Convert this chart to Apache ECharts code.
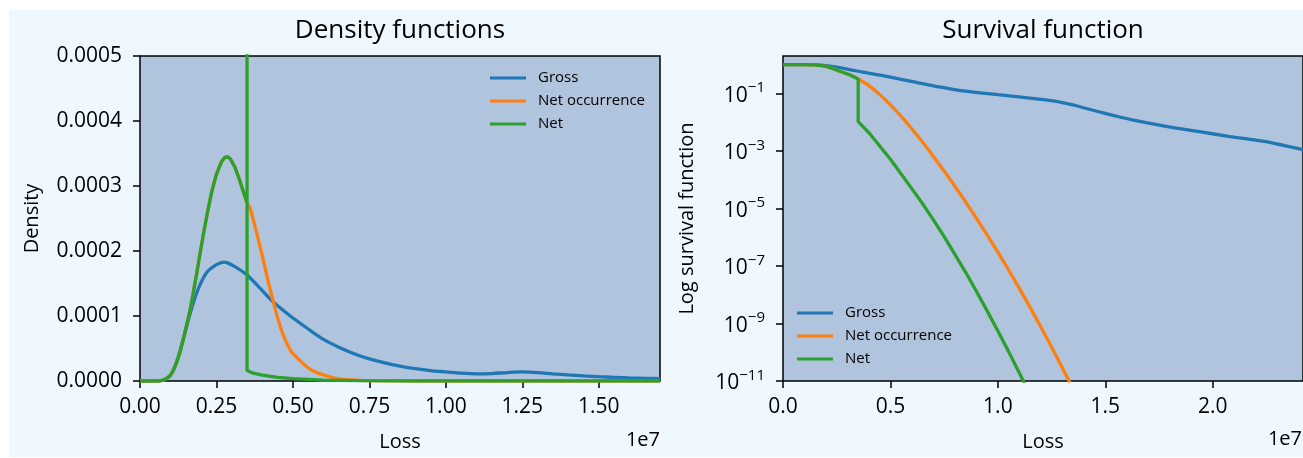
<!DOCTYPE html>
<html><head><meta charset="utf-8">
<script src="https://cdn.jsdelivr.net/npm/echarts@6/dist/echarts.min.js"></script>
<style>
html,body{margin:0;padding:0;background:#fff;}
#bg{position:absolute;left:9px;top:10px;width:1294px;height:447px;background:#f0f8ff;}
#chart{position:absolute;left:0;top:0;width:1303px;height:458px;}
</style></head><body><div id="bg"></div><div id="chart"></div>
<script>
// ---------- names, colours, ticks ----------
const seriesNames = ['Gross', 'Net occurrence', 'Net'];
const seriesColors = ['#1f77b4', '#ff7f0e', '#2ca02c'];
const densityXTicks = [0, 2.5e6, 5e6, 7.5e6, 1e7, 1.25e7, 1.5e7];
const survivalXTicks = [0, 5e6, 1e7, 1.5e7, 2e7];
const survivalYTicks = [1e-11, 1e-9, 1e-7, 1e-5, 1e-3, 1e-1];

// ---------- density: Gross ----------
const grossDensityLoss = [0, 6e5, 8e5, 1e6, 1.2e6, 1.31e6, 1.42e6, 1.53e6, 1.75e6, 1.97e6, 2.18e6, 2.4e6, 2.6e6, 2.75e6, 2.9e6, 3.06e6, 3.3e6, 3.5e6, 3.9e6, 4.3e6, 4.7e6, 5e6, 5.5e6, 6e6, 6.5e6, 7e6, 7.5e6, 8e6, 8.5e6, 9e6, 9.5e6, 1e7, 1.05e7, 1.1e7, 1.15e7, 1.2e7, 1.25e7, 1.3e7, 1.35e7, 1.4e7, 1.45e7, 1.5e7, 1.55e7, 1.6e7, 1.65e7, 1.7e7];
const grossDensity = [0, 0, 2e-6, 9e-6, 3.0e-5, 4.7e-5, 6.5e-5, 8.5e-5, 1.21e-4, 1.49e-4, 1.67e-4, 1.76e-4, 1.81e-4, 1.83e-4, 1.81e-4, 1.77e-4, 1.70e-4, 1.63e-4, 1.44e-4, 1.24e-4, 1.08e-4, 9.7e-5, 8.0e-5, 6.4e-5, 5.2e-5, 4.2e-5, 3.4e-5, 2.8e-5, 2.3e-5, 1.9e-5, 1.6e-5, 1.4e-5, 1.2e-5, 1.1e-5, 1.15e-5, 1.3e-5, 1.4e-5, 1.3e-5, 1.1e-5, 9.3e-6, 7.8e-6, 6.6e-6, 5.7e-6, 4.8e-6, 4.1e-6, 3.6e-6];

// ---------- density: Net occurrence ----------
const netOccDensityLoss = [0, 6e5, 8e5, 9.8e5, 1.1e6, 1.2e6, 1.3e6, 1.42e6, 1.53e6, 1.64e6, 1.75e6, 1.86e6, 1.97e6, 2.07e6, 2.2e6, 2.35e6, 2.5e6, 2.65e6, 2.75e6, 2.85e6, 2.95e6, 3.1e6, 3.25e6, 3.4e6, 3.5e6, 3.6e6, 3.93e6, 4.26e6, 4.59e6, 4.91e6, 5.24e6, 5.57e6, 5.9e6, 6.33e6, 6.8e6, 7.2e6, 8e6, 9e6, 1.7e7];
const netOccDensity = [0, 0, 2e-6, 8e-6, 1.7e-5, 2.9e-5, 4.3e-5, 6.5e-5, 8.7e-5, 1.1e-4, 1.38e-4, 1.67e-4, 1.98e-4, 2.25e-4, 2.58e-4, 2.92e-4, 3.18e-4, 3.36e-4, 3.43e-4, 3.45e-4, 3.42e-4, 3.29e-4, 3.1e-4, 2.88e-4, 2.74e-4, 2.66e-4, 2.06e-4, 1.40e-4, 8.3e-5, 4.8e-5, 3.1e-5, 1.8e-5, 1.1e-5, 5e-6, 2e-6, 1e-6, 3e-7, 0, 0];

// ---------- density: Net ----------
const netDensityLoss = [0, 6e5, 8e5, 9.8e5, 1.1e6, 1.2e6, 1.3e6, 1.42e6, 1.53e6, 1.64e6, 1.75e6, 1.86e6, 1.97e6, 2.07e6, 2.2e6, 2.35e6, 2.5e6, 2.65e6, 2.75e6, 2.85e6, 2.95e6, 3.1e6, 3.25e6, 3.4e6, 3.5e6, 3.5e6, 3.5e6, 3.7e6, 4e6, 4.5e6, 5e6, 6e6, 7e6, 8e6, 9e6, 1.7e7];
const netDensity = [0, 0, 2e-6, 8e-6, 1.7e-5, 2.9e-5, 4.3e-5, 6.5e-5, 8.7e-5, 1.1e-4, 1.38e-4, 1.67e-4, 1.98e-4, 2.25e-4, 2.58e-4, 2.92e-4, 3.18e-4, 3.36e-4, 3.43e-4, 3.45e-4, 3.42e-4, 3.29e-4, 3.1e-4, 2.88e-4, 2.74e-4, 6e-3, 1.6e-5, 1.2e-5, 9e-6, 5.5e-6, 3.5e-6, 1.5e-6, 6e-7, 2e-7, 0, 0];

// ---------- survival: Gross ----------
const grossSurvLoss = [0, 1e6, 1.5e6, 2e6, 2.5e6, 3.1e6, 3.6e6, 4.1e6, 4.66e6, 5.5e6, 6.21e6, 7e6, 7.77e6, 8.5e6, 9.32e6, 1e7, 1.087e7, 1.17e7, 1.258e7, 1.306e7, 1.36e7, 1.46e7, 1.54e7, 1.62e7, 1.77e7, 1.93e7, 2.08e7, 2.24e7, 2.42e7];
const grossSurv = [1, 0.998, 0.984, 0.923, 0.813, 0.676, 0.569, 0.484, 0.417, 0.309, 0.24, 0.182, 0.145, 0.12, 0.102, 0.0902, 0.0776, 0.0661, 0.055, 0.0468, 0.038, 0.024, 0.017, 0.0123, 7.5e-3, 4.79e-3, 3.16e-3, 2.14e-3, 1.1e-3];

// ---------- survival: Net occurrence ----------
const netOccSurvLoss = [0, 1e6, 1.55e6, 2e6, 2.3e6, 2.64e6, 3.1e6, 3.5e6, 4e6, 4.52e6, 5e6, 5.5e6, 6e6, 6.5e6, 7e6, 7.5e6, 8e6, 8.5e6, 9e6, 9.5e6, 1e7, 1.05e7, 1.1e7, 1.15e7, 1.2e7, 1.25e7, 1.3e7, 1.335e7];
const netOccSurv = [1, 0.995, 0.977, 0.871, 0.74, 0.589, 0.447, 0.316, 0.186, 0.0891, 0.0398, 0.0158, 5.82e-3, 2.0e-3, 6.46e-4, 2.0e-4, 5.89e-5, 1.68e-5, 4.57e-6, 1.2e-6, 3.02e-7, 7.24e-8, 1.66e-8, 3.63e-9, 7.59e-10, 1.51e-10, 2.88e-11, 8.9e-12];

// ---------- survival: Net ----------
const netSurvLoss = [0, 1e6, 1.55e6, 2e6, 2.3e6, 2.64e6, 3.1e6, 3.5e6, 3.5e6, 4e6, 4.5e6, 5e6, 5.5e6, 6e6, 6.5e6, 7e6, 7.5e6, 8e6, 8.5e6, 9e6, 9.5e6, 1e7, 1.05e7, 1.1e7, 1.125e7];
const netSurv = [1, 0.995, 0.977, 0.871, 0.74, 0.589, 0.447, 0.316, 1.05e-2, 4.27e-3, 1.48e-3, 5.13e-4, 1.58e-4, 4.79e-5, 1.45e-5, 3.98e-6, 1.05e-6, 2.51e-7, 6.03e-8, 1.32e-8, 2.75e-9, 5.5e-10, 1.05e-10, 1.9e-11, 7.9e-12];

// ---------- build ----------
const FONT = '"Open Sans", sans-serif';
const pairs = (xs, ys) => xs.map((x, i) => [x, ys[i]]);
const densityData = [pairs(grossDensityLoss, grossDensity), pairs(netOccDensityLoss, netOccDensity), pairs(netDensityLoss, netDensity)];
const survivalData = [pairs(grossSurvLoss, grossSurv), pairs(netOccSurvLoss, netOccSurv), pairs(netSurvLoss, netSurv)];
const smoothing = [0.3, 0.3, false];

const tickStyle = { show: true, length: 7, inside: false, lineStyle: { color: '#000', width: 1.5 } };
const labelBase = { color: '#000', fontSize: 21, fontFamily: FONT };
const nameBase = { color: '#000', fontSize: 20, fontFamily: FONT };
const sup = e => '{b|10}{s|' + (e < 0 ? '\u2212' : '') + Math.abs(e) + '}';

const chart = echarts.init(document.getElementById('chart'), null, { renderer: 'canvas' });
const series = [];
[densityData, survivalData].forEach((set, g) => {
  seriesNames.forEach((n, i) => {
    series.push({ name: n, type: 'line', xAxisIndex: g, yAxisIndex: g, data: set[i], showSymbol: false, symbol: 'none', clip: true,
      smooth: smoothing[i],
      lineStyle: { color: seriesColors[i], width: 3.3 }, itemStyle: { color: seriesColors[i] }, emphasis: { disabled: true }, z: 2 + i });
  });
});

const legendBase = {
  data: seriesNames, orient: 'vertical', icon: 'rect', itemWidth: 36, itemHeight: 3, itemGap: 5,
  selectedMode: false,
  textStyle: { fontSize: 15, lineHeight: 18, color: '#000', fontFamily: FONT, padding: [0, 0, 0, 7] }
};

chart.setOption({
  animation: false,
  backgroundColor: 'transparent',
  textStyle: { fontFamily: FONT },
  grid: [
    { left: 140, top: 56, width: 520, height: 325, show: true, backgroundColor: '#b0c4de', borderColor: '#000', borderWidth: 1.5 },
    { left: 783, top: 56, width: 520, height: 325, show: true, backgroundColor: '#b0c4de', borderColor: '#000', borderWidth: 1.5 }
  ],
  xAxis: [
    { type: 'value', gridIndex: 0, min: 0, max: 1.7e7, name: 'Loss', nameLocation: 'middle', nameGap: 51, nameTextStyle: nameBase,
      axisLine: { show: false }, splitLine: { show: false },
      axisTick: Object.assign({ customValues: densityXTicks }, tickStyle),
      axisLabel: Object.assign({ customValues: densityXTicks, margin: 16, formatter: v => (v / 1e7).toFixed(2) }, labelBase) },
    { type: 'value', gridIndex: 1, min: 0, max: 2.42e7, name: 'Loss', nameLocation: 'middle', nameGap: 51, nameTextStyle: nameBase,
      axisLine: { show: false }, splitLine: { show: false },
      axisTick: Object.assign({ customValues: survivalXTicks }, tickStyle),
      axisLabel: Object.assign({ customValues: survivalXTicks, margin: 16, formatter: v => (v / 1e7).toFixed(1) }, labelBase) }
  ],
  yAxis: [
    { type: 'value', gridIndex: 0, min: 0, max: 0.0005, interval: 0.0001, name: 'Density', nameLocation: 'middle', nameGap: 98, nameTextStyle: nameBase,
      axisLine: { show: false }, splitLine: { show: false }, axisTick: tickStyle,
      axisLabel: Object.assign({ margin: 18, formatter: v => v.toFixed(4) }, labelBase) },
    { type: 'log', logBase: 10, gridIndex: 1, min: 1e-11, max: 2, name: 'Log survival function', nameLocation: 'middle', nameGap: 86, nameTextStyle: nameBase,
      axisLine: { show: false }, splitLine: { show: false },
      axisTick: Object.assign({ customValues: survivalYTicks }, tickStyle),
      axisLabel: { customValues: survivalYTicks, margin: 18, color: '#000', fontFamily: FONT,
        formatter: v => sup(Math.round(Math.log10(v))),
        rich: { b: { fontSize: 21, lineHeight: 26, verticalAlign: 'bottom', fontFamily: FONT, color: '#000' },
                s: { fontSize: 15, lineHeight: 15, verticalAlign: 'top', fontFamily: FONT, color: '#000' } } } }
  ],
  legend: [
    Object.assign({ left: 485, top: 64 }, legendBase),
    Object.assign({ left: 792, top: 299 }, legendBase)
  ],
  graphic: [
    { type: 'text', x: 400, y: 31, style: { text: 'Density functions', fontSize: 26, fontFamily: FONT, fill: '#000', align: 'center', verticalAlign: 'middle' } },
    { type: 'text', x: 1043, y: 31, style: { text: 'Survival function', fontSize: 26, fontFamily: FONT, fill: '#000', align: 'center', verticalAlign: 'middle' } },
    { type: 'text', x: 660, y: 440, style: { text: '1e7', fontSize: 20, fontFamily: FONT, fill: '#000', align: 'right', verticalAlign: 'middle' } },
    { type: 'text', x: 1302, y: 439, style: { text: '1e7', fontSize: 20, fontFamily: FONT, fill: '#000', align: 'right', verticalAlign: 'middle' } }
  ],
  series: series
});
</script></body></html>
